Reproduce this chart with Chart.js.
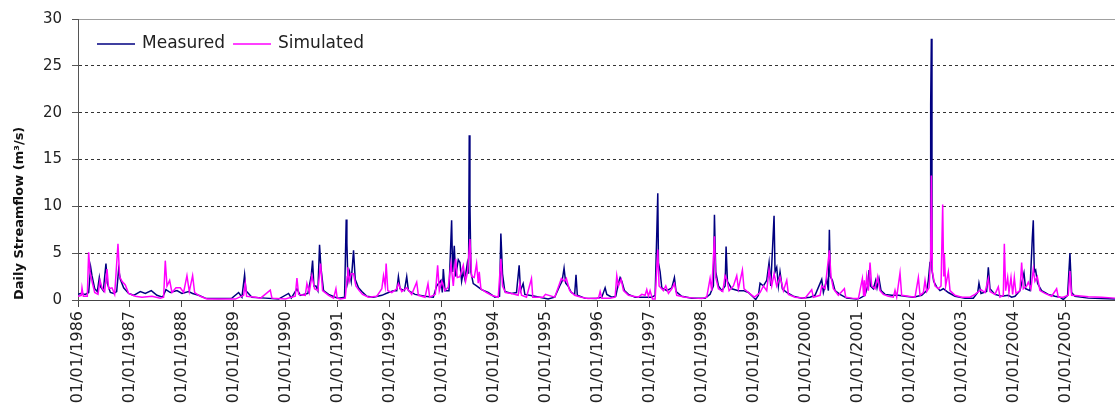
<!DOCTYPE html>
<html>
<head>
<meta charset="utf-8">
<script src="https://cdn.jsdelivr.net/npm/chart.js@4/dist/chart.umd.min.js"></script>
<style>
  html, body { margin: 0; padding: 0; background: #ffffff; }
  #wrap { width: 1115px; height: 416px; }
</style>
</head>
<body>
<div id="wrap"><canvas id="c" width="1115" height="416"></canvas></div>
<script>
// ---- Data (x = decimal year, y = daily streamflow m3/s) ----
const tickYears = [1986,1987,1988,1989,1990,1991,1992,1993,1994,1995,1996,1997,1998,1999,2000,2001,2002,2003,2004,2005];
const tickLabels = ['01/01/1986','01/01/1987','01/01/1988','01/01/1989','01/01/1990','01/01/1991','01/01/1992','01/01/1993','01/01/1994','01/01/1995','01/01/1996','01/01/1997','01/01/1998','01/01/1999','01/01/2000','01/01/2001','01/01/2002','01/01/2003','01/01/2004','01/01/2005'];
const yTicks = [0, 5, 10, 15, 20, 25, 30];
const seriesNames = ['Measured', 'Simulated'];

const measuredPoints = [
  [1986.000,0.6],[1986.045,0.7],[1986.141,0.6],[1986.205,0.8],[1986.244,3.5],[1986.269,2.6],[1986.321,1.2],[1986.372,0.9],
  [1986.410,2.4],[1986.436,1.4],[1986.487,1.0],[1986.538,3.9],[1986.564,1.8],[1986.622,0.8],[1986.686,0.7],[1986.744,0.9],
  [1986.782,3.3],[1986.814,2.2],[1986.878,1.3],[1986.974,0.7],[1987.071,0.5],[1987.199,0.9],[1987.295,0.7],[1987.410,1.0],
  [1987.519,0.5],[1987.628,0.3],[1987.692,1.1],[1987.776,0.8],[1987.904,1.0],[1988.000,0.7],[1988.128,0.9],[1988.205,0.7],
  [1988.321,0.5],[1988.449,0.2],[1988.705,0.15],[1988.962,0.2],[1989.090,0.8],[1989.154,0.3],[1989.205,2.7],[1989.231,1.0],
  [1989.346,0.3],[1989.603,0.2],[1989.859,0.1],[1990.051,0.7],[1990.103,0.2],[1990.212,1.2],[1990.276,0.5],[1990.423,0.7],
  [1990.487,2.6],[1990.513,4.2],[1990.538,1.5],[1990.577,1.5],[1990.615,1.0],[1990.647,5.9],[1990.673,3.5],[1990.724,1.0],
  [1990.821,0.6],[1990.949,0.3],
  [1991.013,0.2],[1991.128,0.3],[1991.160,8.6],[1991.173,6.1],[1991.192,2.0],[1991.224,3.0],[1991.256,2.0],[1991.301,5.3],
  [1991.333,2.2],[1991.397,1.3],[1991.461,0.9],[1991.557,0.4],[1991.685,0.3],[1991.845,0.5],[1991.972,0.8],[1992.068,1.0],
  [1992.132,1.0],[1992.164,2.5],[1992.196,1.2],[1992.280,1.0],[1992.324,2.5],[1992.356,1.0],[1992.484,0.6],[1992.676,0.4],
  [1992.836,0.3],[1992.900,1.5],[1992.983,2.1],[1993.009,0.8],[1993.028,3.3],[1993.060,1.0],[1993.137,1.0],[1993.188,8.5],
  [1993.207,3.0],[1993.239,5.8],[1993.265,2.5],[1993.316,4.3],[1993.348,4.0],[1993.380,2.0],[1993.412,3.0],[1993.444,2.2],
  [1993.489,3.9],[1993.514,2.8],[1993.527,17.6],[1993.540,10.4],[1993.559,3.0],[1993.604,1.75],[1993.668,1.5],[1993.764,1.1],
  [1993.892,0.8],[1994.020,0.3],[1994.110,0.4],[1994.135,7.1],[1994.167,2.8],[1994.212,0.9],[1994.340,0.7],[1994.436,0.8],
  [1994.487,3.7],[1994.513,1.0],[1994.564,1.75],[1994.596,0.6],[1994.788,0.4],[1995.044,0.1],[1995.171,0.3],[1995.267,1.5],
  [1995.312,2.0],[1995.351,3.4],[1995.383,1.8],[1995.427,1.5],[1995.491,0.8],[1995.555,0.6],[1995.581,2.7],[1995.606,0.5],
  [1995.747,0.2],[1995.971,0.15],
  [1996.077,0.3],[1996.141,1.3],[1996.173,0.6],[1996.269,0.3],[1996.346,0.4],[1996.397,1.8],[1996.429,2.4],[1996.462,2.0],
  [1996.513,1.0],[1996.590,0.6],[1996.718,0.3],[1996.910,0.3],[1997.038,0.3],[1997.103,0.5],[1997.135,7.2],[1997.154,11.4],
  [1997.167,4.0],[1997.199,3.0],[1997.231,1.3],[1997.327,1.0],[1997.423,1.3],[1997.474,2.4],[1997.506,0.9],[1997.615,0.4],
  [1997.808,0.2],[1998.064,0.2],[1998.160,0.6],[1998.224,1.5],[1998.244,9.1],[1998.269,3.0],[1998.321,1.5],[1998.385,1.0],
  [1998.449,1.5],[1998.468,5.7],[1998.494,2.0],[1998.577,1.2],[1998.705,1.0],[1998.801,1.0],[1998.897,0.8],[1998.994,0.3],
  [1999.038,0.05],[1999.090,0.5],[1999.122,1.8],[1999.186,1.5],[1999.250,2.1],[1999.295,4.0],[1999.327,1.5],[1999.391,9.0],
  [1999.410,3.0],[1999.442,3.5],[1999.474,1.5],[1999.506,3.0],[1999.551,1.2],[1999.635,0.8],[1999.763,0.4],[1999.923,0.2],
  [2000.083,0.3],[2000.179,0.5],[2000.308,2.2],[2000.340,0.8],[2000.404,2.2],[2000.436,1.0],[2000.455,7.5],[2000.474,2.5],
  [2000.513,2.1],[2000.564,1.0],[2000.660,0.6],[2000.788,0.2],[2000.981,0.1],
  [2001.045,0.2],[2001.141,0.5],[2001.192,1.5],[2001.218,3.2],[2001.244,1.5],[2001.301,1.2],[2001.346,2.1],[2001.372,1.3],
  [2001.410,2.3],[2001.449,1.0],[2001.526,0.6],[2001.654,0.5],[2001.782,0.5],[2001.910,0.4],[2002.071,0.3],[2002.231,0.5],
  [2002.327,1.0],[2002.359,2.1],[2002.391,4.0],[2002.404,20.8],[2002.417,27.9],[2002.429,3.2],[2002.462,2.0],[2002.519,1.4],
  [2002.583,1.0],[2002.647,1.2],[2002.744,0.8],[2002.872,0.4],[2003.064,0.2],[2003.224,0.2],[2003.308,0.8],[2003.333,1.8],
  [2003.372,0.7],[2003.481,0.9],[2003.513,3.5],[2003.545,1.2],[2003.641,0.6],[2003.769,0.4],[2003.897,0.5],[2003.962,0.3],
  [2004.026,0.4],[2004.122,1.0],[2004.199,2.9],[2004.231,1.2],[2004.314,1.0],[2004.359,6.6],[2004.378,8.5],[2004.397,3.0],
  [2004.423,3.2],[2004.462,1.75],[2004.538,1.0],[2004.667,0.6],[2004.795,0.4],[2004.891,0.3],[2004.955,0.05],[2005.038,0.5],
  [2005.083,5.0],[2005.115,0.8],[2005.179,0.4],[2005.436,0.2],[2005.692,0.15],[2005.949,0.1]
];

const simulatedPoints = [
  [1986.000,0.4],[1986.064,0.5],[1986.077,1.3],[1986.103,0.4],[1986.179,0.4],[1986.205,5.1],[1986.231,3.0],[1986.269,2.0],
  [1986.321,0.8],[1986.385,0.6],[1986.423,2.1],[1986.462,1.3],[1986.513,0.9],[1986.558,3.3],[1986.590,1.2],[1986.654,1.3],
  [1986.705,0.6],[1986.769,6.0],[1986.801,2.5],[1986.846,2.0],[1986.910,1.6],[1986.974,0.7],[1987.103,0.4],[1987.231,0.3],
  [1987.423,0.4],[1987.583,0.2],[1987.647,0.3],[1987.679,4.2],[1987.712,1.5],[1987.763,2.1],[1987.808,0.8],[1987.885,1.3],
  [1987.968,1.3],[1988.032,0.8],[1988.096,2.6],[1988.141,0.9],[1988.205,2.6],[1988.244,0.8],[1988.353,0.4],[1988.481,0.1],
  [1988.769,0.1],[1989.026,0.1],[1989.186,0.5],[1989.218,1.75],[1989.244,0.4],[1989.417,0.3],[1989.513,0.2],[1989.699,1.05],
  [1989.731,0.2],[1989.987,0.1],[1990.179,0.4],[1990.212,2.35],[1990.244,0.6],[1990.372,0.5],[1990.404,1.75],[1990.449,0.8],
  [1990.500,2.6],[1990.551,1.2],[1990.615,1.0],[1990.667,3.9],[1990.705,1.0],[1990.821,0.5],[1990.917,0.2],[1990.962,1.2],
  [1990.987,0.2],
  [1991.045,0.1],[1991.141,0.2],[1991.179,2.5],[1991.192,3.5],[1991.218,2.0],[1991.256,2.8],[1991.301,2.8],[1991.346,1.5],
  [1991.410,1.0],[1991.474,0.6],[1991.589,0.3],[1991.749,0.4],[1991.845,1.2],[1991.877,2.6],[1991.909,1.5],[1991.928,3.9],
  [1991.960,1.0],[1992.036,0.8],[1992.132,1.2],[1992.164,1.75],[1992.228,0.9],[1992.324,1.3],[1992.420,0.6],[1992.516,1.9],
  [1992.548,0.5],[1992.676,0.3],[1992.733,1.75],[1992.765,0.3],[1992.874,0.6],[1992.919,3.7],[1992.951,1.0],[1993.000,2.0],
  [1993.060,1.0],[1993.124,1.4],[1993.175,3.9],[1993.220,1.5],[1993.265,4.4],[1993.297,2.4],[1993.348,2.5],[1993.412,3.7],
  [1993.457,2.0],[1993.495,3.0],[1993.540,6.5],[1993.572,2.5],[1993.623,2.4],[1993.668,3.9],[1993.700,1.8],[1993.719,3.0],
  [1993.751,1.2],[1993.860,0.8],[1993.956,0.5],[1994.084,0.3],[1994.135,4.4],[1994.167,1.5],[1994.225,0.8],[1994.340,0.7],
  [1994.468,0.5],[1994.500,1.75],[1994.532,0.5],[1994.628,0.3],[1994.724,2.3],[1994.749,0.3],[1994.948,0.3],[1994.993,0.6],
  [1995.171,0.3],[1995.267,1.8],[1995.299,2.3],[1995.363,2.0],[1995.395,2.3],[1995.459,1.0],[1995.555,0.5],[1995.683,0.3],
  [1995.811,0.15],[1995.971,0.2],
  [1996.013,0.2],[1996.045,0.9],[1996.077,0.2],[1996.237,0.2],[1996.333,0.3],[1996.365,2.6],[1996.397,1.5],[1996.449,2.2],
  [1996.494,1.0],[1996.590,0.5],[1996.782,0.3],[1996.846,0.6],[1996.910,0.5],[1996.942,1.1],[1996.974,0.4],[1997.006,1.0],
  [1997.051,0.1],[1997.103,0.1],[1997.154,5.4],[1997.179,1.5],[1997.263,1.0],[1997.308,1.5],[1997.359,0.7],[1997.423,1.2],
  [1997.474,1.75],[1997.519,0.5],[1997.679,0.3],[1997.872,0.2],[1998.000,0.15],[1998.096,0.3],[1998.160,2.3],[1998.192,1.0],
  [1998.244,6.8],[1998.269,2.4],[1998.321,1.2],[1998.404,0.9],[1998.449,2.6],[1998.481,2.2],[1998.526,1.0],[1998.609,1.5],
  [1998.673,2.6],[1998.705,1.2],[1998.782,3.2],[1998.814,1.2],[1998.897,0.8],[1999.013,0.3],[1999.122,0.8],[1999.186,1.5],
  [1999.250,1.0],[1999.295,3.2],[1999.346,1.5],[1999.391,2.8],[1999.442,1.5],[1999.506,2.5],[1999.571,1.0],[1999.635,2.1],
  [1999.667,0.6],[1999.795,0.3],[1999.987,0.2],[2000.115,1.1],[2000.147,0.3],[2000.276,0.5],[2000.308,1.5],[2000.372,1.2],
  [2000.455,5.3],[2000.487,2.5],[2000.532,1.2],[2000.628,0.5],[2000.744,1.2],[2000.769,0.3],[2000.885,0.2],[2001.013,0.15],
  [2001.090,2.3],[2001.115,0.4],[2001.128,2.1],[2001.141,0.4],[2001.173,2.5],[2001.205,1.0],[2001.237,4.0],[2001.269,1.5],
  [2001.333,1.2],[2001.385,2.5],[2001.429,1.0],[2001.494,0.6],[2001.590,0.4],[2001.686,0.3],[2001.718,1.05],[2001.750,0.3],
  [2001.814,2.9],[2001.846,0.5],[2001.974,0.4],[2002.103,0.3],[2002.167,2.4],[2002.199,0.5],[2002.263,0.8],[2002.295,2.1],
  [2002.327,0.9],[2002.372,1.3],[2002.404,4.5],[2002.417,13.3],[2002.436,3.0],[2002.487,1.5],[2002.551,1.2],[2002.603,1.5],
  [2002.635,10.2],[2002.654,2.5],[2002.667,4.9],[2002.692,1.5],[2002.744,3.0],[2002.776,1.0],[2002.872,0.5],[2003.000,0.3],
  [2003.160,0.3],[2003.256,0.6],[2003.372,1.1],[2003.449,0.8],[2003.513,2.3],[2003.545,0.9],[2003.641,0.6],[2003.705,1.4],
  [2003.737,0.3],[2003.801,0.5],[2003.821,6.0],[2003.846,1.0],[2003.885,2.4],[2003.910,0.8],[2003.949,2.4],[2003.981,0.6],
  [2004.013,2.4],[2004.045,0.7],[2004.122,1.0],[2004.154,4.0],[2004.186,1.2],[2004.250,1.5],[2004.282,1.9],[2004.333,1.2],
  [2004.378,3.3],[2004.410,2.0],[2004.455,2.5],[2004.506,1.0],[2004.603,0.7],[2004.731,0.4],[2004.827,1.2],[2004.859,0.3],
  [2004.955,0.3],[2005.051,0.5],[2005.083,3.1],[2005.115,0.5],[2005.244,0.45],[2005.436,0.35],[2005.692,0.3],[2005.949,0.2]
];

const toXY = pts => pts.map(p => ({ x: p[0], y: p[1] }));

// Custom in-plot legend (line sample + label), drawn from dataset labels/colours
const insideLegend = {
  id: 'insideLegend',
  afterDraw(chart) {
    const ctx = chart.ctx;
    const area = chart.chartArea;
    ctx.save();
    ctx.font = '17px "DejaVu Sans"';
    ctx.textBaseline = 'middle';
    ctx.fillStyle = '#222';
    let x = area.left + 19;
    const y = area.top + 25;
    chart.data.datasets.forEach(ds => {
      ctx.strokeStyle = ds.borderColor;
      ctx.lineWidth = 1.5;
      ctx.beginPath();
      ctx.moveTo(x, y);
      ctx.lineTo(x + 38, y);
      ctx.stroke();
      x += 45;
      ctx.fillText(ds.label, x, y);
      x += ctx.measureText(ds.label).width + 8;
    });
    ctx.restore();
  }
};

new Chart(document.getElementById('c'), {
  type: 'line',
  data: {
    datasets: [
      { label: seriesNames[0], data: toXY(measuredPoints), borderColor: '#000080', borderWidth: 1.5, pointRadius: 0, tension: 0, order: 2 },
      { label: seriesNames[1], data: toXY(simulatedPoints), borderColor: '#FF00FF', borderWidth: 1.5, pointRadius: 0, tension: 0, order: 1 }
    ]
  },
  options: {
    responsive: false,
    animation: false,
    devicePixelRatio: 1,
    layout: { padding: { top: 15, right: 0, left: 0, bottom: 0 } },
    plugins: { legend: { display: false }, tooltip: { enabled: false } },
    scales: {
      x: {
        type: 'linear',
        min: 1986,
        max: 2005.95,
        afterBuildTicks: s => { s.ticks = tickYears.map(v => ({ value: v })); },
        afterFit: s => { s.height = 116; },
        ticks: {
          autoSkip: false,
          minRotation: 90,
          maxRotation: 90,
          padding: 4,
          color: '#222',
          font: { family: 'DejaVu Sans', size: 16 },
          callback: (v) => tickLabels[tickYears.indexOf(v)]
        },
        grid: { drawOnChartArea: false, drawTicks: true, tickLength: 7, color: '#444' },
        border: { display: true, color: '#444', width: 1 }
      },
      y: {
        min: 0,
        max: 30,
        afterBuildTicks: s => { s.ticks = yTicks.map(v => ({ value: v })); },
        afterFit: s => { s.width = 78; },
        ticks: {
          padding: 10,
          color: '#222',
          font: { family: 'DejaVu Sans', size: 15 }
        },
        grid: {
          drawTicks: true,
          tickLength: 6,
          tickColor: '#555',
          color: c => (c.tick && c.tick.value === 0) ? 'rgba(0,0,0,0)' : (c.tick && c.tick.value === 30 ? '#a0a0a0' : '#333'),
          lineWidth: 1
        },
        border: {
          display: true,
          color: '#555',
          width: 1,
          dash: c => (c.tick && c.tick.value === 30) ? [] : [3, 3]
        },
        title: {
          display: true,
          text: 'Daily Streamflow (m³/s)',
          align: 'start',
          color: '#111',
          padding: { top: 12, bottom: 0 },
          font: { family: 'DejaVu Sans', size: 13, weight: 'bold' }
        }
      }
    }
  },
  plugins: [insideLegend]
});
</script>
</body>
</html>
